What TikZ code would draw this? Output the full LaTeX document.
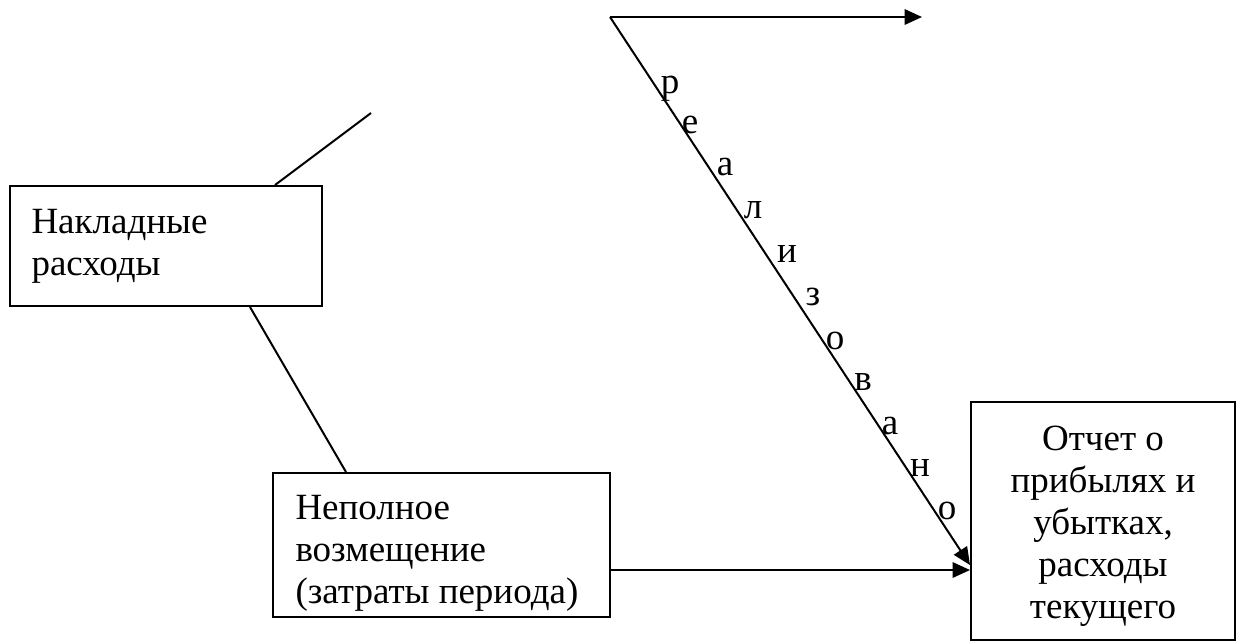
\documentclass[tikz,border=0pt]{standalone}
\usepackage{fontspec}
\setmainfont{Liberation Serif}
\usetikzlibrary{arrows.meta}
\begin{document}
\begin{tikzpicture}[x=0.4pt,y=-0.4pt,
  box/.style={draw,line width=0.8pt,rectangle,inner sep=0pt},
  txt/.style={inner sep=0pt,font=\fontsize{14.8}{16.8}\selectfont},
  conn/.style={line width=0.8pt},
  arr/.style={line width=0.8pt,-{Triangle[length=7pt,width=6.2pt]}}]
\useasboundingbox (0,0) rectangle (1237,642);
% boxes
\node[box,minimum width=312*0.4pt,minimum height=120*0.4pt] (b1) at (166,246) {};
\node[box,minimum width=337*0.4pt,minimum height=144*0.4pt] (b2) at (441.5,545) {};
\node[box,minimum width=264*0.4pt,minimum height=238*0.4pt] (b3) at (1103,521) {};
% box texts (base anchor = last line)
\node[txt,anchor=base west,align=left] (t1) at (31,275) {Накладные\\расходы};
\node[txt,anchor=base west,align=left] (t2) at (295,603) {Неполное\\возмещение\\(затраты периода)};
\node[txt,anchor=base,align=center] (t3) at (1103,618) {Отчет о\\прибылях и\\убытках,\\расходы\\текущего};
% free ends
\coordinate (l1end) at (371,113);
\coordinate (top) at (610,17);
\coordinate (topend) at (922,17);
% connectors
\draw[conn] ([xshift=43.6pt]b1.north) -- (l1end);
\draw[conn] ([xshift=33.6pt]b1.south) -- ([xshift=-38.2pt]b2.north);
\draw[arr] (top) -- (topend);
\draw[arr] (top) -- ([yshift=-17.6pt]b3.west);
\draw[arr] ([yshift=-10pt]b2.east) -- ([yshift=-10pt]b2.east -| b3.west);
% vertical word along diagonal
\foreach \ch/\x/\y [count=\i] in {р/670/93,е/690/133,а/725/175,л/753/218,и/787/262,з/813/305,о/835/349,в/863/390,а/890/434,н/920/476,о/947/519}
  \node[txt,anchor=base] (v\i) at (\x,\y) {\ch};
\end{tikzpicture}
\end{document}
